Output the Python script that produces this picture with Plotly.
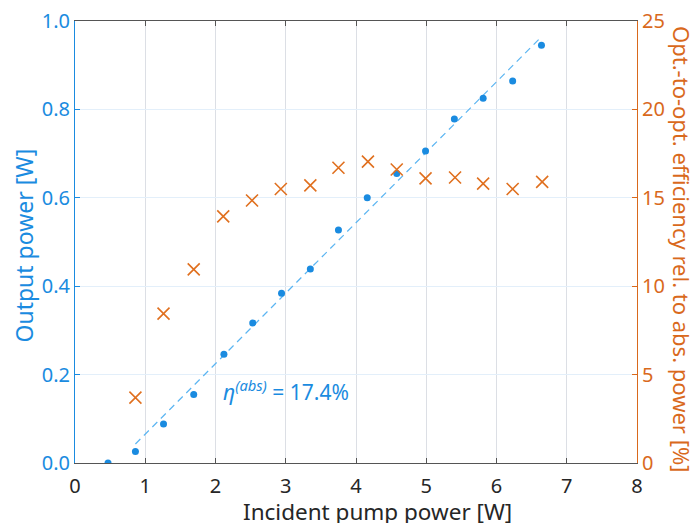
import plotly.graph_objects as go

# Measured laser data
pump_power = [0.47, 0.86, 1.26, 1.69, 2.12, 2.53, 2.94, 3.35, 3.75, 4.16,
              4.58, 4.99, 5.40, 5.81, 6.23, 6.64]
output_power = [0.0, 0.026, 0.088, 0.155, 0.246, 0.317, 0.384, 0.439, 0.527,
                0.600, 0.655, 0.706, 0.778, 0.825, 0.864, 0.945]

eff_pump = [0.86, 1.26, 1.69, 2.11, 2.52, 2.93, 3.35, 3.75, 4.17, 4.58,
            4.99, 5.41, 5.81, 6.23, 6.65]
efficiency = [3.7, 8.45, 10.95, 13.95, 14.85, 15.5, 15.7, 16.7, 17.05, 16.6,
              16.1, 16.15, 15.8, 15.5, 15.9]

# Linear slope fit over the lasing range
fit_x = [0.86, 6.63]
fit_slope = 0.1594
fit_offset = -0.094
fit_y = [fit_slope * x + fit_offset for x in fit_x]

x_ticks = [0, 1, 2, 3, 4, 5, 6, 7, 8]
left_ticks = [0.0, 0.2, 0.4, 0.6, 0.8, 1.0]
left_labels = ["0.0", "0.2", "0.4", "0.6", "0.8", "1.0"]
right_ticks = [0, 5, 10, 15, 20, 25]

BLUE = "#1A8BE0"
BLUE_FIT = "#5BB5F2"
ORANGE = "#D9691C"
ORANGE_MK = "#E0701F"
DARK = "#262626"
FONT = "Noto Sans"

fig = go.Figure()

fig.add_trace(go.Scatter(
    x=fit_x, y=fit_y, mode="lines",
    line=dict(color=BLUE_FIT, width=1.2, dash="7px,5px"),
    showlegend=False, yaxis="y"))

fig.add_trace(go.Scatter(
    x=pump_power, y=output_power, mode="markers",
    marker=dict(color=BLUE, size=7, symbol="circle"),
    showlegend=False, yaxis="y"))

fig.add_trace(go.Scatter(
    x=eff_pump, y=efficiency, mode="markers",
    marker=dict(color=ORANGE_MK, size=12, symbol="x-thin",
                line=dict(color=ORANGE_MK, width=1.6)),
    showlegend=False, yaxis="y2"))

fig.add_annotation(
    x=2.08, y=0.163, xref="x", yref="y", xanchor="left", yanchor="middle",
    text="<i>η</i><sup><i>(abs)</i></sup> = 17.4%", showarrow=False,
    font=dict(family=FONT, size=21, color=BLUE))

# Axis titles placed as annotations
fig.add_annotation(
    x=0.5, y=0, xref="paper", yref="paper", xanchor="center", yanchor="middle",
    xshift=21, yshift=-48, height=24, valign="middle", showarrow=False,
    text="Incident pump power [W]",
    font=dict(family=FONT, size=22.5, color=DARK))

fig.add_annotation(
    x=0, y=0.492, xref="paper", yref="paper", xanchor="center", yanchor="middle",
    xshift=-51, textangle=-90, showarrow=False,
    text="Output power [W]",
    font=dict(family=FONT, size=23, color=BLUE))

fig.add_annotation(
    x=1, y=0.484, xref="paper", yref="paper", xanchor="center", yanchor="middle",
    xshift=45, textangle=90, showarrow=False,
    text="Opt.-to-opt. efficiency rel. to abs. power [%]",
    font=dict(family=FONT, size=22, color=ORANGE))

fig.update_layout(
    width=697, height=525,
    margin=dict(l=75, r=60, t=21, b=62),
    paper_bgcolor="white", plot_bgcolor="white",
    font=dict(family=FONT, size=19),
    xaxis=dict(
        range=[0, 8], tickvals=x_ticks, ticks="inside", ticklen=5,
        tickcolor="#555555", linecolor="#555555", linewidth=1, mirror="ticks",
        showgrid=True, gridcolor="#DCDFE5", gridwidth=1, zeroline=False,
        automargin=False, ticklabelstandoff=5,
        tickfont=dict(family=FONT, size=20, color=DARK)),
    yaxis=dict(
        range=[0, 1.0], tickvals=left_ticks, ticktext=left_labels,
        ticks="inside", ticklen=5, tickcolor=BLUE, linecolor=BLUE, linewidth=1,
        showgrid=True, gridcolor="#E3EFFA", gridwidth=1, zeroline=False,
        automargin=False,
        tickfont=dict(family=FONT, size=20, color=BLUE)),
    yaxis2=dict(
        range=[0, 25], tickvals=right_ticks, overlaying="y", side="right",
        ticks="inside", ticklen=5, tickcolor=ORANGE, linecolor=ORANGE, linewidth=1,
        showgrid=False, zeroline=False, automargin=False,
        tickfont=dict(family=FONT, size=20, color=ORANGE)),
)

fig.write_html("out.html")
